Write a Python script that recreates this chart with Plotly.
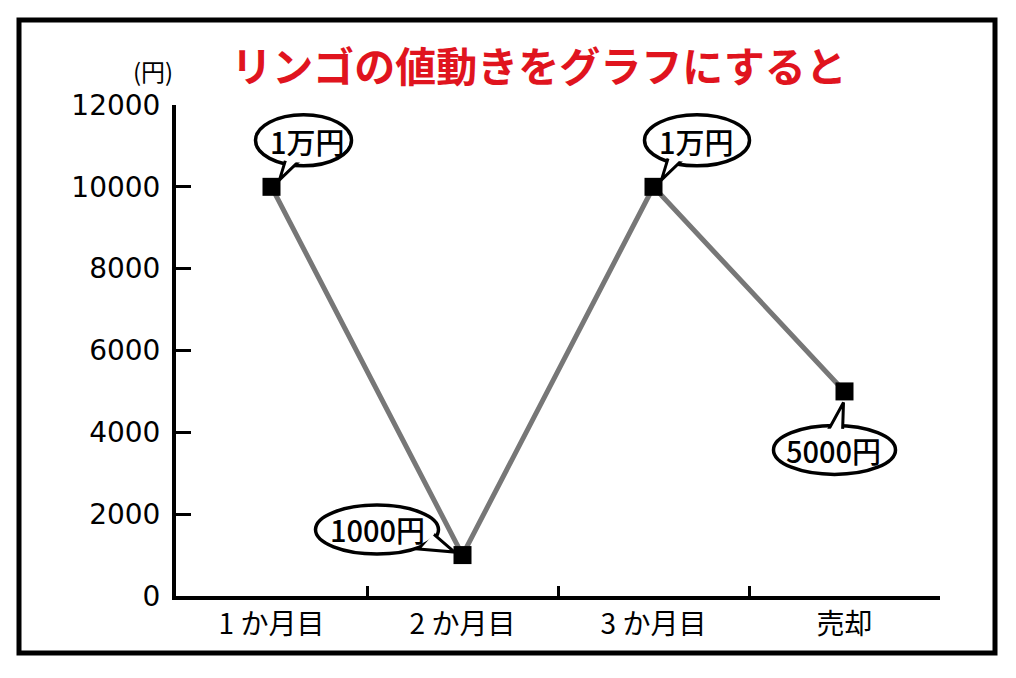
import plotly.graph_objects as go

# ---- data ----
categories = ["1 か月目", "2 か月目", "3 か月目", "売却"]
prices = [10000, 1000, 10000, 5000]
bubble_labels = ["1万円", "1000円", "1万円", "5000円"]
y_ticks = [0, 2000, 4000, 6000, 8000, 10000, 12000]
y_tick_text = [str(v) for v in y_ticks]

title_text = "リンゴの値動きをグラフにすると"
unit_text = "(円)"

FONT = "Noto Sans CJK JP"
OFF = 8  # page body margin

# bubble geometry (pixel offsets relative to each point; +y is up)
ellipse_box = [(-16, 80, 21, 72), (-147, -24, 1, 50), (-9, 96, 21, 72), (-71, 51, -83, -34)]
tails = [
    [(15, 30), (32, 30), (8, 7)],
    [(-44, 6), (-30, 22), (-8, 3)],
    [(15, 30), (32, 30), (8, 7)],
    [(-18, -42), (-2, -42), (-1, -11)],
]
inner_shrink = 3
text_offset = [(36, 46), (-85, 26), (43, 46), (-11, -59)]

fig = go.Figure()
fig.add_trace(go.Scatter(
    x=list(range(len(categories))), y=prices, mode="lines+markers",
    line=dict(color="#777777", width=5),
    marker=dict(symbol="square", size=18, color="black"),
    showlegend=False, hoverinfo="skip",
))

shapes = []
annotations = []
for i, (lab, val) in enumerate(zip(bubble_labels, prices)):
    x0, x1, y0, y1 = ellipse_box[i]
    common = dict(xref="x", yref="y", xsizemode="pixel", ysizemode="pixel",
                  xanchor=i, yanchor=val, layer="above")
    shapes.append(dict(type="circle", x0=x0, x1=x1, y0=y0, y1=y1,
                       line=dict(color="black", width=3.5), fillcolor="white", **common))
    p = tails[i]
    path = f"M{p[0][0]},{p[0][1]} L{p[2][0]},{p[2][1]} L{p[1][0]},{p[1][1]} Z"
    shapes.append(dict(type="path", path=path,
                       line=dict(color="black", width=3), fillcolor="white", **common))
    s = inner_shrink
    shapes.append(dict(type="circle", x0=x0 + s, x1=x1 - s, y0=y0 + s, y1=y1 - s,
                       line=dict(width=0), fillcolor="white", **common))
    tx, ty = text_offset[i]
    annotations.append(dict(x=i, y=val, xref="x", yref="y", text=lab, showarrow=True,
                            arrowcolor="rgba(0,0,0,0)", ax=tx, ay=-ty, axref="pixel", ayref="pixel",
                            font=dict(family=FONT, size=29, color="black", weight=500)))

# layout geometry (page pixels, then shifted for the body margin)
L, T = 176 - OFF, 105 - OFF
W, H = 764, 596 - 105
def px(xp):
    return (xp - OFF - L) / W
def py(yp):
    return (T + H - (yp - OFF)) / H

shapes.append(dict(type="rect", xref="paper", yref="paper",
                   x0=px(19), x1=px(995), y0=py(653), y1=py(20),
                   line=dict(color="black", width=5), layer="below"))

annotations.append(dict(x=px(153), y=py(70), xref="paper", yref="paper", text=unit_text,
                        xanchor="center", yanchor="middle",
                        showarrow=False, font=dict(family=FONT, size=24, color="black")))

fig.update_layout(
    width=1016, height=678,
    margin=dict(l=L, r=1016 - L - W, t=T, b=678 - T - H),
    paper_bgcolor="white", plot_bgcolor="white",
    title=dict(text=title_text, xref="container", yref="container",
               x=(539 - OFF) / 1016, y=1 - (68 - OFF) / 678, xanchor="center", yanchor="middle",
               font=dict(family=FONT, size=41, color="#E0141E", weight="bold")),
    shapes=shapes, annotations=annotations,
    xaxis=dict(type="category", range=[-0.5, 3.5], tickvals=list(range(len(categories))),
               ticktext=categories, tickson="boundaries", ticks="inside", ticklen=10,
               tickwidth=3, tickcolor="black", showline=True, linecolor="black", linewidth=4,
               showgrid=False, zeroline=False,
               tickfont=dict(family=FONT, size=28, color="black")),
    yaxis=dict(range=[0, 12000], tickvals=y_ticks, ticktext=y_tick_text, ticks="inside",
               ticklen=15, tickwidth=3,
               tickcolor="black", showline=True, linecolor="black", linewidth=4,
               showgrid=False, zeroline=False, ticklabelstandoff=6,
               tickfont=dict(family="DejaVu Sans", size=28, color="black")),
)

fig.write_html("out.html")
